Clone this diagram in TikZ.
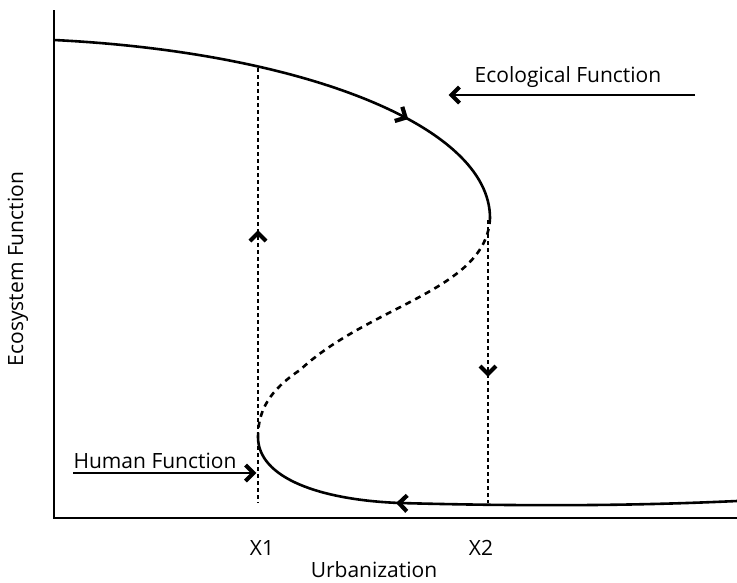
\documentclass[tikz,border=0pt]{standalone}
\usepackage{fontspec}
\setmainfont{Open Sans}
\usetikzlibrary{decorations.markings}
\begin{document}
\begin{tikzpicture}[x=1pt,y=-1pt,
  curve/.style={line width=2.6pt},
  axis/.style={line width=1.3pt},
  guide/.style={line width=1.1pt,dash pattern=on 4pt off 3pt},
  chevat/.style={postaction={decorate,decoration={markings,
     mark=at position #1 with {\draw[solid,line width=4.2pt,line cap=butt,line join=miter]
        (-8pt,-8pt) -- (0pt,0pt) -- (-8pt,8pt);}}}},
  lbl/.style={font=\fontsize{21}{25}\selectfont,inner sep=0pt}]
\useasboundingbox (0,0) rectangle (737,582);
% axes
\coordinate (O) at (54,518);
\coordinate (Ytop) at (54,10);
\coordinate (Xend) at (737,518);
\draw[axis] (Ytop) -- (O) -- (Xend);
% curve points
\coordinate (A) at (54,40);
\coordinate (B) at (490,218);
\coordinate (C) at (258,437);
\coordinate (M) at (300,370);
\coordinate (D) at (400,503);
\coordinate (E) at (737,501);
\draw[curve,chevat=0.725]
   (A) .. controls (300,52) and (490,125) .. (B);
\draw[curve,dash pattern=on 6pt off 5pt]
   (B) .. controls (487,290) and (370,305) .. (M)
   .. controls (270,390) and (258,410) .. (C);
\draw[curve] (C) .. controls (258,478) and (320,500) .. (D)
   .. controls (550,507) and (650,505) .. (E);
% guides
\coordinate (X1top) at (258,68);
\coordinate (X1bot) at (258,503);
\coordinate (X2top) at (488,220);
\coordinate (X2bot) at (488,503);
\draw[guide] (X1top) -- (X1bot);
\draw[guide] (X2top) -- (X2bot);
% arrowheads on guides and lower branch
\coordinate (u1) at (258,243);
\coordinate (u2) at (258,223);
\path[chevat=0.5] (u1) -- (u2);
\coordinate (d1) at (488,364);
\coordinate (d2) at (488,384);
\path[chevat=0.5] (d1) -- (d2);
\coordinate (l1) at (409,503.4);
\coordinate (l2) at (389,502.8);
\path[chevat=0.5] (l1) -- (l2);
% labels
\node[lbl] (eco) at (568,77) {Ecological Function};
\coordinate (ecoS) at (695,95);
\coordinate (ecoE) at (453,95);
\draw[line width=1.3pt] (ecoS) -- (ecoE);
\path[chevat=1] (ecoS) -- ([xshift=-1.5pt]ecoE);
\node[lbl] (hum) at (155,461) {Human Function};
\coordinate (humS) at (73,473);
\coordinate (humE) at (252,473);
\draw[line width=1.3pt] (humS) -- (humE);
\path[chevat=1] (humS) -- ([xshift=1.5pt]humE);
\node[lbl] (x1) at (262,548) {X1};
\node[lbl] (x2) at (481,548) {X2};
\node[lbl] (urb) at (374,570) {Urbanization};
\node[lbl,rotate=90] (eco2) at (18,269) {Ecosystem Function};
\end{tikzpicture}
\end{document}
